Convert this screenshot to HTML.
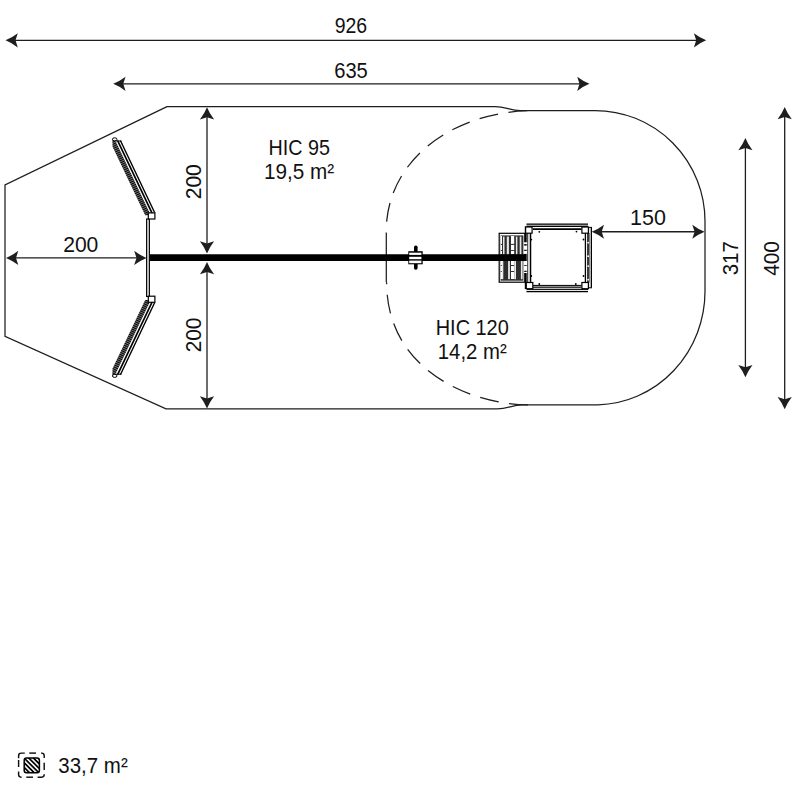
<!DOCTYPE html>
<html><head><meta charset="utf-8"><style>
html,body{margin:0;padding:0;background:#fff;width:800px;height:800px;overflow:hidden}
svg{display:block}
</style></head><body>
<svg width="800" height="800" viewBox="0 0 800 800">
<rect width="800" height="800" fill="#fff"/>
<path d="M167,106.6 L5,185 L5,336.25 L166,408.9 L497,408.9 C508,408.9 512,404.8 522,404.8 L598,404.8 A110,113.5 0 0 0 705,291.3 L705,221.3 A110,110.8 0 0 0 595,110.5 L520.5,110.5 C510,110.5 506,106.6 495,106.6 Z" fill="none" stroke="#1e1e1e" stroke-width="1.25"/>
<line x1="386.3" y1="233" x2="386.3" y2="282.3" stroke="#1e1e1e" stroke-width="1.25"/>
<path d="M386.1,232.7 C386.1,156.8 456.9,110.5 535.3,110.5" fill="none" stroke="#1e1e1e" stroke-width="1.25" stroke-dasharray="19 10.5" stroke-dashoffset="-11"/>
<path d="M386.6,282.2 C386.6,372.7 474.9,404.8 528.2,404.8" fill="none" stroke="#1e1e1e" stroke-width="1.25" stroke-dasharray="19 10.5" stroke-dashoffset="-12.5"/>
<line x1="9.5" y1="40.35" x2="702.2" y2="40.35" stroke="#1e1e1e" stroke-width="1.3"/>
<path d="M5.50,40.35 Q11.65,37.90 17.80,33.25 L15.50,40.35 L17.80,47.45 Q11.65,42.80 5.50,40.35Z" fill="#1e1e1e"/>
<path d="M706.20,40.35 Q700.05,42.80 693.90,47.45 L696.20,40.35 L693.90,33.25 Q700.05,37.90 706.20,40.35Z" fill="#1e1e1e"/>
<line x1="117.25" y1="83.8" x2="585.5" y2="83.8" stroke="#1e1e1e" stroke-width="1.3"/>
<path d="M113.25,83.80 Q119.40,81.35 125.55,76.70 L123.25,83.80 L125.55,90.90 Q119.40,86.25 113.25,83.80Z" fill="#1e1e1e"/>
<path d="M589.50,83.80 Q583.35,86.25 577.20,90.90 L579.50,83.80 L577.20,76.70 Q583.35,81.35 589.50,83.80Z" fill="#1e1e1e"/>
<line x1="10" y1="257.9" x2="142.5" y2="257.9" stroke="#1e1e1e" stroke-width="1.3"/>
<path d="M6.00,257.90 Q12.15,255.45 18.30,250.80 L16.00,257.90 L18.30,265.00 Q12.15,260.35 6.00,257.90Z" fill="#1e1e1e"/>
<path d="M146.50,257.90 Q140.35,260.35 134.20,265.00 L136.50,257.90 L134.20,250.80 Q140.35,255.45 146.50,257.90Z" fill="#1e1e1e"/>
<line x1="207" y1="111.3" x2="207" y2="249.5" stroke="#1e1e1e" stroke-width="1.3"/>
<path d="M207.00,107.30 Q209.45,113.45 214.10,119.60 L207.00,117.30 L199.90,119.60 Q204.55,113.45 207.00,107.30Z" fill="#1e1e1e"/>
<path d="M207.00,253.50 Q204.55,247.35 199.90,241.20 L207.00,243.50 L214.10,241.20 Q209.45,247.35 207.00,253.50Z" fill="#1e1e1e"/>
<line x1="207" y1="266" x2="207" y2="404.5" stroke="#1e1e1e" stroke-width="1.3"/>
<path d="M207.00,262.00 Q209.45,268.15 214.10,274.30 L207.00,272.00 L199.90,274.30 Q204.55,268.15 207.00,262.00Z" fill="#1e1e1e"/>
<path d="M207.00,408.50 Q204.55,402.35 199.90,396.20 L207.00,398.50 L214.10,396.20 Q209.45,402.35 207.00,408.50Z" fill="#1e1e1e"/>
<line x1="595.7" y1="231.75" x2="700.6" y2="231.75" stroke="#1e1e1e" stroke-width="1.3"/>
<path d="M591.70,231.75 Q597.85,229.30 604.00,224.65 L601.70,231.75 L604.00,238.85 Q597.85,234.20 591.70,231.75Z" fill="#1e1e1e"/>
<path d="M704.60,231.75 Q698.45,234.20 692.30,238.85 L694.60,231.75 L692.30,224.65 Q698.45,229.30 704.60,231.75Z" fill="#1e1e1e"/>
<line x1="745.4" y1="142" x2="745.4" y2="373.3" stroke="#1e1e1e" stroke-width="1.3"/>
<path d="M745.40,138.00 Q747.85,144.15 752.50,150.30 L745.40,148.00 L738.30,150.30 Q742.95,144.15 745.40,138.00Z" fill="#1e1e1e"/>
<path d="M745.40,377.30 Q742.95,371.15 738.30,365.00 L745.40,367.30 L752.50,365.00 Q747.85,371.15 745.40,377.30Z" fill="#1e1e1e"/>
<line x1="784.7" y1="111" x2="784.7" y2="405.2" stroke="#1e1e1e" stroke-width="1.3"/>
<path d="M784.70,107.00 Q787.15,113.15 791.80,119.30 L784.70,117.00 L777.60,119.30 Q782.25,113.15 784.70,107.00Z" fill="#1e1e1e"/>
<path d="M784.70,409.20 Q782.25,403.05 777.60,396.90 L784.70,399.20 L791.80,396.90 Q787.15,403.05 784.70,409.20Z" fill="#1e1e1e"/>
<rect x="146.6" y="219" width="2.8" height="77.5" fill="#d8d8d8" stroke="#000" stroke-width="1.1"/>
<defs><pattern id="hatch" width="2" height="2" patternUnits="userSpaceOnUse" patternTransform="rotate(-25)"><rect width="2" height="2" fill="#8a8a8a"/><rect width="2" height="1.15" fill="#000"/></pattern></defs>
<g><path d="M112.30,139.60 L120.71,139.60 L156.29,214.50 L145.17,215.30 L112.58,146.70Z" fill="#fff"/><path d="M112.30,139.60 L114.81,139.60 L150.77,215.30 L145.17,215.30 L112.58,146.70Z" fill="url(#hatch)"/><path d="M116.64,140.50 L118.49,140.50 L153.64,214.50 L151.79,214.50Z" fill="#000"/><path d="M119.64,140.50 L121.14,140.50 L155.34,212.50 L153.84,212.50Z" fill="#000"/><ellipse cx="114.7" cy="139.3" rx="2.3" ry="1.5" fill="#fff" stroke="#000" stroke-width="1"/><line x1="115.88" y1="141" x2="121.38" y2="141" stroke="#000" stroke-width="1"/><rect x="148.3" y="212.9" width="6.6" height="6.1" fill="#fff" stroke="#000" stroke-width="1.2"/></g>
<g transform="matrix(1 0 0 -1 0 515.2)"><path d="M112.30,139.60 L120.71,139.60 L156.29,214.50 L145.17,215.30 L112.58,146.70Z" fill="#fff"/><path d="M112.30,139.60 L114.81,139.60 L150.77,215.30 L145.17,215.30 L112.58,146.70Z" fill="url(#hatch)"/><path d="M116.64,140.50 L118.49,140.50 L153.64,214.50 L151.79,214.50Z" fill="#000"/><path d="M119.64,140.50 L121.14,140.50 L155.34,212.50 L153.84,212.50Z" fill="#000"/><ellipse cx="114.7" cy="139.3" rx="2.3" ry="1.5" fill="#fff" stroke="#000" stroke-width="1"/><line x1="115.88" y1="141" x2="121.38" y2="141" stroke="#000" stroke-width="1"/><rect x="148.3" y="212.9" width="6.6" height="6.1" fill="#fff" stroke="#000" stroke-width="1.2"/></g>
<rect x="499.2" y="233.3" width="25.6" height="48.9" fill="#fff" stroke="#000" stroke-width="1.2"/>
<rect x="500.6" y="235.4" width="22.8" height="45.3" fill="#2e2e2e"/>
<rect x="503.0" y="236.6" width="1.50" height="18" fill="#e8e8e8"/>
<rect x="506.8" y="236.6" width="2.10" height="18" fill="#e8e8e8"/>
<rect x="515.9" y="236.6" width="1.50" height="18" fill="#e8e8e8"/>
<rect x="519.7" y="236.6" width="1.70" height="18" fill="#e8e8e8"/>
<rect x="501.8" y="261" width="1.50" height="18.2" fill="#e8e8e8"/>
<rect x="508.1" y="261" width="1.80" height="18.2" fill="#e8e8e8"/>
<rect x="514.3" y="261" width="1.70" height="18.2" fill="#e8e8e8"/>
<rect x="520.9" y="261" width="1.70" height="18.2" fill="#e8e8e8"/>
<rect x="500.6" y="236.0" width="1.40" height="7.90" fill="#fff"/>
<rect x="500.6" y="244.9" width="1.40" height="5.20" fill="#fff"/>
<rect x="500.6" y="251.0" width="1.40" height="3.20" fill="#fff"/>
<rect x="500.6" y="261.0" width="1.40" height="4.00" fill="#fff"/>
<rect x="500.6" y="266.0" width="1.40" height="5.00" fill="#fff"/>
<rect x="500.6" y="272.0" width="1.40" height="7.00" fill="#fff"/>
<rect x="511.0" y="236.0" width="3.20" height="7.90" fill="#fff"/>
<rect x="511.0" y="244.9" width="3.20" height="5.20" fill="#fff"/>
<rect x="511.0" y="251.0" width="3.20" height="3.20" fill="#fff"/>
<rect x="511.0" y="261.0" width="3.20" height="4.00" fill="#fff"/>
<rect x="511.0" y="266.0" width="3.20" height="5.00" fill="#fff"/>
<rect x="511.0" y="272.0" width="3.20" height="7.00" fill="#fff"/>
<rect x="150" y="254.25" width="376" height="6.75" fill="#000"/>
<rect x="414.0" y="245.6" width="3.6" height="7" rx="1.7" fill="#000"/>
<rect x="414.0" y="262.6" width="3.6" height="7.2" rx="1.7" fill="#000"/>
<rect x="408.3" y="251.2" width="14.4" height="13.1" fill="#000"/>
<rect x="409.2" y="252.7" width="12.2" height="2.2" fill="#fff"/>
<rect x="409.2" y="256.8" width="12.2" height="2.4" fill="#fff"/>
<rect x="409.2" y="260.6" width="12.2" height="2.6" fill="#fff"/>
<rect x="526.5" y="224.1" width="61.50" height="2.30" fill="#d0d0d0"/>
<line x1="526.5" y1="224.1" x2="588" y2="224.1" stroke="#000" stroke-width="1.2"/>
<line x1="526.5" y1="226.4" x2="588" y2="226.4" stroke="#000" stroke-width="1.2"/>
<line x1="533" y1="229.1" x2="581.5" y2="229.1" stroke="#000" stroke-width="1.7"/>
<rect x="533" y="285.4" width="48.50" height="2.40" fill="#8a8a8a"/>
<line x1="533" y1="285.4" x2="581.5" y2="285.4" stroke="#000" stroke-width="1.0"/>
<line x1="533" y1="287.8" x2="581.5" y2="287.8" stroke="#000" stroke-width="0.9"/>
<line x1="526.5" y1="289.6" x2="588" y2="289.6" stroke="#000" stroke-width="1.0"/>
<line x1="526.5" y1="291.6" x2="588" y2="291.6" stroke="#000" stroke-width="1.1"/>
<rect x="526" y="233" width="2.25" height="49.00" fill="#4a4a4a"/>
<line x1="525.4" y1="226.5" x2="525.4" y2="289" stroke="#000" stroke-width="1.2"/>
<rect x="529.75" y="233" width="1.50" height="49.00" fill="#000"/>
<rect x="523.9" y="242.25" width="3.20" height="1.85" fill="#fff"/>
<rect x="523.9" y="245.6" width="3.20" height="4.15" fill="#fff"/>
<rect x="523.9" y="250.9" width="3.20" height="3.00" fill="#fff"/>
<rect x="523.9" y="261" width="3.20" height="4.10" fill="#fff"/>
<rect x="523.9" y="265.9" width="3.20" height="4.85" fill="#fff"/>
<rect x="523.9" y="271.9" width="3.20" height="1.10" fill="#fff"/>
<line x1="585.4" y1="233" x2="585.4" y2="282.5" stroke="#000" stroke-width="1.3"/>
<rect x="587" y="233" width="2.70" height="49.50" fill="#3a3a3a"/>
<rect x="589.7" y="227.4" width="1.30" height="60.40" fill="#b0b0b0"/>
<line x1="591.5" y1="227.4" x2="591.5" y2="287.8" stroke="#000" stroke-width="1.0"/>
<line x1="588.4" y1="227.4" x2="592" y2="227.4" stroke="#000" stroke-width="1.0"/>
<line x1="588.4" y1="287.8" x2="592" y2="287.8" stroke="#000" stroke-width="1.0"/>
<circle cx="588.2" cy="242.7" r="0.9" fill="#fff"/>
<circle cx="588.2" cy="256.2" r="0.9" fill="#fff"/>
<circle cx="588.2" cy="266.1" r="0.9" fill="#fff"/>
<circle cx="588.2" cy="279.7" r="0.9" fill="#fff"/>
<rect x="525.6" y="227.0" width="6.5" height="6.2" fill="#fff" stroke="#000" stroke-width="1.2"/>
<rect x="581.9" y="227.0" width="6.5" height="6.2" fill="#fff" stroke="#000" stroke-width="1.2"/>
<rect x="526.3" y="282.5" width="6.5" height="6.2" fill="#fff" stroke="#000" stroke-width="1.2"/>
<rect x="581.9" y="282.5" width="6.5" height="6.2" fill="#fff" stroke="#000" stroke-width="1.2"/>
<circle cx="539.3" cy="231.8" r="0.9" fill="#000"/>
<circle cx="576.5" cy="231.6" r="0.9" fill="#000"/>
<circle cx="583.5" cy="239.5" r="0.9" fill="#000"/>
<circle cx="531.3" cy="239.6" r="0.9" fill="#000"/>
<circle cx="583.5" cy="276" r="0.9" fill="#000"/>
<circle cx="575.8" cy="284" r="0.9" fill="#000"/>
<circle cx="539.3" cy="284" r="0.9" fill="#000"/>
<circle cx="531.3" cy="276" r="0.9" fill="#000"/>
<text x="0" y="0" font-family="Liberation Sans, sans-serif" font-size="21.40" fill="#111" text-anchor="middle" textLength="32.44" lengthAdjust="spacingAndGlyphs" transform="translate(350.88 33.00) rotate(0)">926</text>
<text x="0" y="0" font-family="Liberation Sans, sans-serif" font-size="21.40" fill="#111" text-anchor="middle" textLength="33.60" lengthAdjust="spacingAndGlyphs" transform="translate(351.00 78.00) rotate(0)">635</text>
<text x="0" y="0" font-family="Liberation Sans, sans-serif" font-size="21.40" fill="#111" text-anchor="middle" textLength="61.44" lengthAdjust="spacingAndGlyphs" transform="translate(299.25 155.00) rotate(0)">HIC 95</text>
<text x="0" y="0" font-family="Liberation Sans, sans-serif" font-size="21.40" fill="#111" text-anchor="middle" textLength="70.20" lengthAdjust="spacingAndGlyphs" transform="translate(299.00 178.75) rotate(0)">19,5 m²</text>
<text x="0" y="0" font-family="Liberation Sans, sans-serif" font-size="21.40" fill="#111" text-anchor="middle" textLength="35.21" lengthAdjust="spacingAndGlyphs" transform="translate(80.75 252.00) rotate(0)">200</text>
<text x="0" y="0" font-family="Liberation Sans, sans-serif" font-size="21.40" fill="#111" text-anchor="middle" textLength="35.22" lengthAdjust="spacingAndGlyphs" transform="translate(200.75 181.75) rotate(-90)">200</text>
<text x="0" y="0" font-family="Liberation Sans, sans-serif" font-size="21.40" fill="#111" text-anchor="middle" textLength="34.65" lengthAdjust="spacingAndGlyphs" transform="translate(201.00 335.00) rotate(-90)">200</text>
<text x="0" y="0" font-family="Liberation Sans, sans-serif" font-size="21.40" fill="#111" text-anchor="middle" textLength="73.01" lengthAdjust="spacingAndGlyphs" transform="translate(472.25 335.00) rotate(0)">HIC 120</text>
<text x="0" y="0" font-family="Liberation Sans, sans-serif" font-size="21.40" fill="#111" text-anchor="middle" textLength="68.94" lengthAdjust="spacingAndGlyphs" transform="translate(472.25 359.00) rotate(0)">14,2 m²</text>
<text x="0" y="0" font-family="Liberation Sans, sans-serif" font-size="21.40" fill="#111" text-anchor="middle" textLength="35.83" lengthAdjust="spacingAndGlyphs" transform="translate(648.00 225.00) rotate(0)">150</text>
<text x="0" y="0" font-family="Liberation Sans, sans-serif" font-size="21.40" fill="#111" text-anchor="middle" textLength="34.18" lengthAdjust="spacingAndGlyphs" transform="translate(738.00 258.25) rotate(-90)">317</text>
<text x="0" y="0" font-family="Liberation Sans, sans-serif" font-size="21.40" fill="#111" text-anchor="middle" textLength="34.65" lengthAdjust="spacingAndGlyphs" transform="translate(778.50 258.50) rotate(-90)">400</text>
<text x="0" y="0" font-family="Liberation Sans, sans-serif" font-size="21.40" fill="#111" text-anchor="middle" textLength="69.42" lengthAdjust="spacingAndGlyphs" transform="translate(93.00 773.00) rotate(0)">33,7 m²</text>
<path d="M18.6,758.3000000000001 L18.6,755.7 Q18.6,753.1 21.200000000000003,753.1 L24.8,753.1" fill="none" stroke="#111" stroke-width="1.45"/>
<path d="M41.0,753.1 L41.6,753.1 Q44.2,753.1 44.2,755.7 L44.2,758.1" fill="none" stroke="#111" stroke-width="1.45"/>
<path d="M18.6,771.6 L18.6,774.6 Q18.6,777.2 21.200000000000003,777.2 L21.6,777.2" fill="none" stroke="#111" stroke-width="1.45"/>
<path d="M37.6,777.2 L41.6,777.2 Q44.2,777.2 44.2,774.6 L44.2,774.2" fill="none" stroke="#111" stroke-width="1.45"/>
<line x1="29.3" y1="753.1" x2="36.0" y2="753.1" stroke="#111" stroke-width="1.45"/>
<line x1="26.3" y1="777.2" x2="33.0" y2="777.2" stroke="#111" stroke-width="1.45"/>
<line x1="18.6" y1="760.0" x2="18.6" y2="767.0" stroke="#111" stroke-width="1.45"/>
<line x1="44.2" y1="762.8" x2="44.2" y2="770.0" stroke="#111" stroke-width="1.45"/>
<defs><pattern id="hp" width="3.3" height="3.3" patternUnits="userSpaceOnUse" patternTransform="rotate(-45)"><rect width="3.3" height="3.3" fill="#000"/><rect x="0" y="0" width="1.55" height="3.3" fill="#fff"/></pattern></defs>
<rect x="24.2" y="758.0" width="15.2" height="14.8" rx="2.2" fill="url(#hp)" stroke="#000" stroke-width="1.5"/>
</svg></body></html>
